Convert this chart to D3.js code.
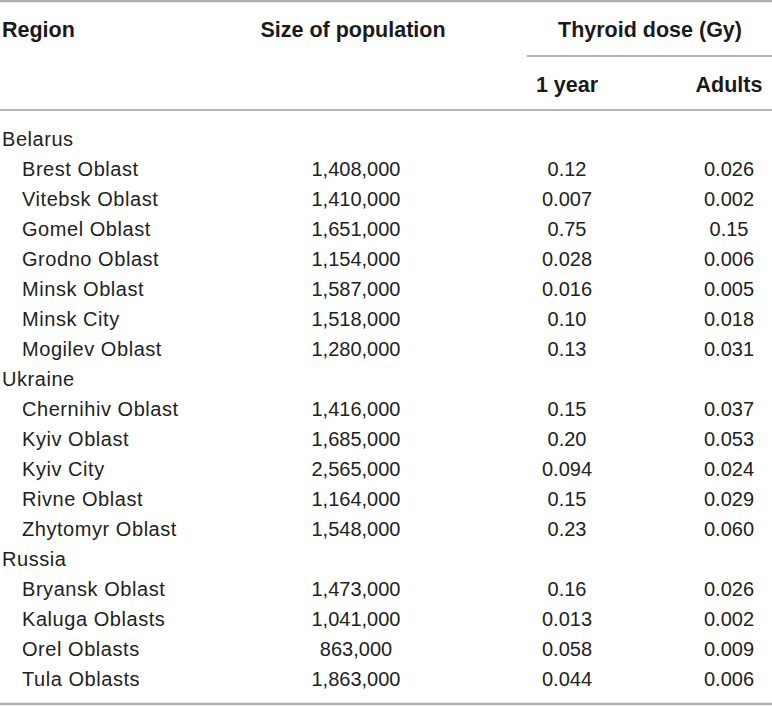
<!DOCTYPE html>
<html>
<head>
<meta charset="utf-8">
<script src="https://cdn.jsdelivr.net/npm/d3@7"></script>
<style>
  body { margin: 0; background: #fff; }
  text { font-family: "Liberation Sans", Arial, sans-serif; }
</style>
</head>
<body>
<div id="tabla"></div>
<script>
var width = 772;
var height = 706;

// Datos
var grupos = ["Belarus", "Ukraine", "Russia"];
var regiones = [
  ["Brest Oblast", "Vitebsk Oblast", "Gomel Oblast", "Grodno Oblast", "Minsk Oblast", "Minsk City", "Mogilev Oblast"],
  ["Chernihiv Oblast", "Kyiv Oblast", "Kyiv City", "Rivne Oblast", "Zhytomyr Oblast"],
  ["Bryansk Oblast", "Kaluga Oblasts", "Orel Oblasts", "Tula Oblasts"]
];
var poblacion = [
  [1408000, 1410000, 1651000, 1154000, 1587000, 1518000, 1280000],
  [1416000, 1685000, 2565000, 1164000, 1548000],
  [1473000, 1041000, 863000, 1863000]
];
var dosis_1ano = [
  ["0.12", "0.007", "0.75", "0.028", "0.016", "0.10", "0.13"],
  ["0.15", "0.20", "0.094", "0.15", "0.23"],
  ["0.16", "0.013", "0.058", "0.044"]
];
var dosis_adultos = [
  ["0.026", "0.002", "0.15", "0.006", "0.005", "0.018", "0.031"],
  ["0.037", "0.053", "0.024", "0.029", "0.060"],
  ["0.026", "0.002", "0.009", "0.006"]
];
var columnas = ["Region", "Size of population", "1 year", "Adults"];

// filas planas: grupo seguido de sus regiones
var filas = [];
for (var g = 0; g < grupos.length; g++) {
  filas.push({tipo: "grupo", nombre: grupos[g]});
  for (var r = 0; r < regiones[g].length; r++) {
    filas.push({tipo: "item", nombre: regiones[g][r], pob: poblacion[g][r],
                d1: dosis_1ano[g][r], da: dosis_adultos[g][r]});
  }
}

var canvas = d3.select("#tabla")
        .append("svg")
        .attr("width", width)
        .attr("height", height);

var y = d3.scalePoint()
        .domain(d3.range(filas.length))
        .range([145.5, 686]);

var x = d3.scaleOrdinal()
        .domain(columnas)
        .range([2, 356, 567, 729]);

var fmt = d3.format(",");

// Lineas
var lineas = canvas.append("g").attr("stroke", "#9a9a9a");
lineas.append("line").attr("x1", 0).attr("x2", width).attr("y1", 1).attr("y2", 1).attr("stroke-width", 2.5).attr("stroke", "#b0b0b0");
lineas.append("line").attr("x1", 527).attr("x2", width).attr("y1", 56).attr("y2", 56).attr("stroke-width", 1.5);
lineas.append("line").attr("x1", 0).attr("x2", width).attr("y1", 110).attr("y2", 110).attr("stroke-width", 1.5);
lineas.append("line").attr("x1", 0).attr("x2", width).attr("y1", 704).attr("y2", 704).attr("stroke-width", 2.5).attr("stroke", "#b0b0b0");

// Encabezado
var enc = canvas.append("g")
        .attr("font-weight", "bold")
        .attr("font-size", 21.5)
        .attr("fill", "#1a1a1a");

enc.append("text").attr("x", x("Region")).attr("y", 36.5).text("Region");
enc.append("text").attr("x", 353).attr("y", 36.5).attr("text-anchor", "middle").text("Size of population");
enc.append("text").attr("x", 650).attr("y", 36.5).attr("text-anchor", "middle").text("Thyroid dose (Gy)");
enc.append("text").attr("x", x("1 year")).attr("y", 92).attr("text-anchor", "middle").text("1 year");
enc.append("text").attr("x", x("Adults")).attr("y", 92).attr("text-anchor", "middle").text("Adults");

// Cuerpo
var cuerpo = canvas.append("g")
        .attr("font-size", 20)
        .attr("fill", "#222");

var fila = cuerpo.selectAll("g.fila")
        .data(filas)
        .enter().append("g")
        .attr("class", "fila")
        .attr("transform", function(d, i) { return "translate(0," + y(i) + ")"; });

fila.append("text")
        .attr("x", function(d) { return d.tipo == "grupo" ? x("Region") : 22; })
        .attr("letter-spacing", 0.55)
        .text(function(d) { return d.nombre; });

var items = fila.filter(function(d) { return d.tipo == "item"; });

items.append("text")
        .attr("x", x("Size of population"))
        .attr("text-anchor", "middle")
        .text(function(d) { return fmt(d.pob); });

items.append("text")
        .attr("x", x("1 year"))
        .attr("text-anchor", "middle")
        .text(function(d) { return d.d1; });

items.append("text")
        .attr("x", x("Adults"))
        .attr("text-anchor", "middle")
        .text(function(d) { return d.da; });
</script>
</body>
</html>
